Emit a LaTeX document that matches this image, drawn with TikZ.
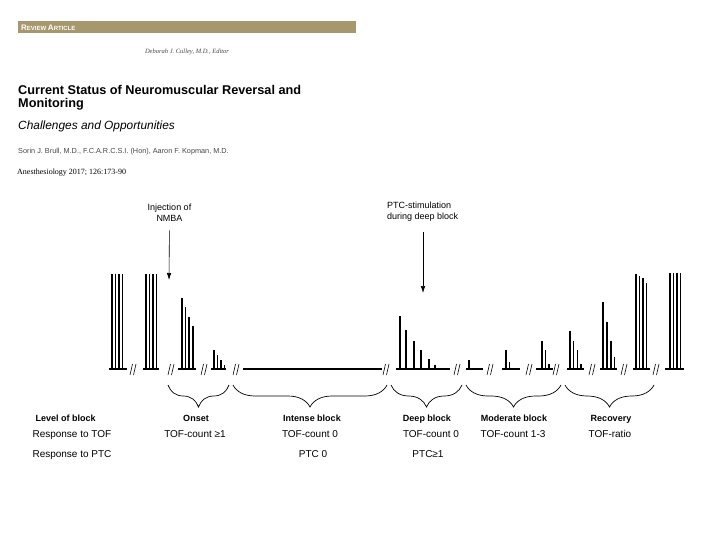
\documentclass[tikz,border=0pt]{standalone}
\usepackage{fontspec}
\setmainfont{Liberation Sans}
\newfontfamily\timesfont{Liberation Serif}
\usetikzlibrary{decorations.pathreplacing,arrows.meta}
\definecolor{headtan}{RGB}{166,151,108}
\definecolor{authorgray}{RGB}{70,70,70}

% one group of twitches on the base line: #1 = start, #2 = end, #3 = x/top pairs
\newcommand{\twitchgroup}[3]{%
  \draw[base] (#1,369) -- (#2,369);
  \foreach \bx/\by in {#3} \draw[bar] (\bx,369) -- (\bx,\by);}

\begin{document}
\begin{tikzpicture}[x=1pt,y=-1pt,
    bar/.style={line width=1.7pt},
    base/.style={line width=1.1pt},
    brk/.style={line width=0.6pt},
    blockbrace/.style={decorate,decoration={brace,mirror,amplitude=22pt},line width=0.7pt},
    blockname/.style={anchor=base,font=\fontsize{9}{10}\selectfont\bfseries},
    response/.style={anchor=base,font=\fontsize{10}{11}\selectfont},
    callout/.style={font=\fontsize{9}{11}\selectfont},
    pointer/.style={-{Latex[length=7pt,width=4.5pt]},line width=0.6pt}]
\useasboundingbox (0,0) rectangle (720,540);

% header of the article
\fill[headtan] (18,21) rectangle (356,33);
\node (kind) [anchor=west,text=white,inner sep=0pt,font=\bfseries] at (21,27.5)
  {\fontsize{8}{9}\selectfont R\fontsize{6}{7}\selectfont EVIEW \fontsize{8}{9}\selectfont A\fontsize{6}{7}\selectfont RTICLE};
\node (editor) [anchor=base,inner sep=0pt,text=authorgray,font=\timesfont\itshape\fontsize{6.5}{7}\selectfont] at (187,54)
  {Deborah J. Culley, M.D., Editor};
\node (title1) [anchor=base west,inner sep=0pt,font=\fontsize{12.7}{13}\selectfont\bfseries] at (18,94.5)
  {Current Status of Neuromuscular Reversal and};
\node (title2) [anchor=base west,inner sep=0pt,font=\fontsize{12.7}{13}\selectfont\bfseries] at (18,107.5)
  {Monitoring};
\node (subtitle) [anchor=base west,inner sep=0pt,font=\fontsize{11.9}{12}\selectfont\itshape] at (18,129.5)
  {Challenges and Opportunities};
\node (authors) [anchor=base west,inner sep=0pt,text=authorgray,font=\fontsize{7.3}{8}\selectfont] at (18,154)
  {Sorin J. Brull, M.D., F.C.A.R.C.S.I. (Hon), Aaron F. Kopman, M.D.};
\node (journal) [anchor=base west,inner sep=0pt,font=\timesfont\fontsize{8}{9}\selectfont] at (17,175)
  {Anesthesiology 2017; 126:173-90};

% call-outs
\node[callout,align=center,inner sep=0pt] (inj) at (169.5,212.5) {Injection of\\NMBA};
\coordinate (injtip) at (169,280);
\draw[pointer,shorten <=9pt] (inj.south) -- (injtip);
\node[callout,align=left,inner sep=0pt,anchor=north west] (ptc) at (387,201.5) {PTC-stimulation\\during deep block};
\coordinate (ptctail) at (423,232);
\coordinate (ptctip) at (423,293);
\draw[pointer] (ptctail) -- (ptctip);

% twitch responses
\twitchgroup{109}{127}{112/274,115.5/274,119/274,122.5/274}
\twitchgroup{143}{159}{146/274,149.5/274,153/274,156.5/274}
\twitchgroup{178}{196}{182/298,185.5/307,189/317,193/326}
\twitchgroup{211}{226}{214/350,217.5/355,221/360,224.5/365}
\draw[base] (243,369) -- (382,369);
\twitchgroup{396}{450}{400/316,406/330,414/341,421/350,429/359,435/365}
\twitchgroup{466}{483}{469/360}
\twitchgroup{502}{520}{506/350,509.5/362}
\twitchgroup{536}{553}{542/341,545.5/350,549/364}
\twitchgroup{567}{584}{570/331,573.5/341,577.5/350,581/364}
\twitchgroup{600}{617}{603/302,607/322,611/341,614.5/357}
\twitchgroup{633}{650}{636/274,639.5/276,643/278,646.5/283}
\twitchgroup{665}{684}{670/273,673.5/273,677/273,680.5/273}

% time breaks
\foreach \x in {133,171,204,236,386,457,490,529,556,592,624,656}
  \draw[brk] (\x-3,375) -- (\x-0.5,364) (\x+0.5,375) -- (\x+3,364);

% block braces
\draw[blockbrace] (168,385) -- (229,385);
\draw[blockbrace] (233,385) -- (387,385);
\draw[blockbrace] (391,385) -- (462,385);
\draw[blockbrace] (466,385) -- (561,385);
\draw[blockbrace] (565,385) -- (654,385);

% table of responses
\node[blockname,anchor=base west] (levelhead) at (32,421) {Level of block};
\node[blockname] (onset) at (196,421) {Onset};
\node[blockname] (intense) at (312,421) {Intense block};
\node[blockname] (deep) at (427,421) {Deep block};
\node[blockname] (moderate) at (514,421) {Moderate block};
\node[blockname] (recovery) at (611,421) {Recovery};
\node[response,anchor=base west] (tofhead) at (29,437) {Response to TOF};
\node[response] (tofonset) at (195,437) {TOF-count ≥1};
\node[response] (tofintense) at (310,437) {TOF-count 0};
\node[response] (tofdeep) at (431,437) {TOF-count 0};
\node[response] (tofmoderate) at (513,437) {TOF-count 1-3};
\node[response] (tofrecovery) at (610,437) {TOF-ratio};
\node[response,anchor=base west] (ptchead) at (29,457) {Response to PTC};
\node[response] (ptcintense) at (313,457) {PTC 0};
\node[response] (ptcdeep) at (428,457) {PTC≥1};
\end{tikzpicture}
\end{document}
